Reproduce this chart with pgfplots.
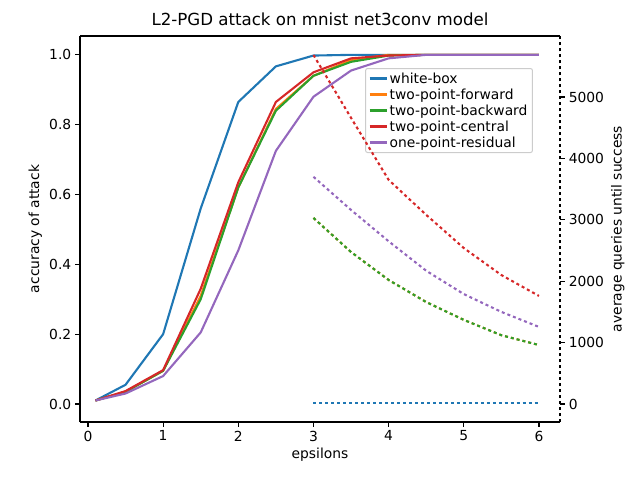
\documentclass[border=0pt]{standalone}
\usepackage{pgfplots}
\pgfplotsset{compat=1.18}
\usepackage{fontspec}
\setmainfont{DejaVu Sans}
\definecolor{mplA}{HTML}{1F77B4}
\definecolor{mplB}{HTML}{FF7F0E}
\definecolor{mplC}{HTML}{2CA02C}
\definecolor{mplD}{HTML}{D62728}
\definecolor{mplE}{HTML}{9467BD}
\begin{document}
\begin{tikzpicture}
\useasboundingbox (-80bp,-58bp) rectangle (560bp,422bp);
\pgfplotsset{every axis/.append style={scale only axis,width=480bp,height=386bp,
  xmin=-0.106,xmax=6.28,font=\fontsize{13.9}{16}\selectfont,
  /pgf/number format/assume math mode=true,
  /pgf/number format/1000 sep={},
  tick align=outside,line width=1.1bp,
  tick style={black,line width=1.1bp},major tick length=4.9bp},
  mp/.style={line width=2.1bp}}
\begin{axis}[at={(0,0)},anchor=south west,
  ymin=-0.0516,ymax=1.054,axis y line*=left,axis x line*=bottom,
  xtick={0,1,2,3,4,5,6},ytick={0,0.2,0.4,0.6,0.8,1.0},
  yticklabel style={/pgf/number format/.cd,fixed,fixed zerofill,precision=1},
  xlabel={epsilons},ylabel={accuracy of attack},
  title={L2-PGD attack on mnist net3conv model},
  title style={font=\fontsize{16.7}{19}\selectfont},
  legend style={at={(0.594,0.917)},anchor=north west,font=\fontsize{13.9}{16}\selectfont,draw=black!20,rounded corners=2pt,line width=1bp},
  legend cell align=left]
\addplot[mplA,mp] coordinates {(0.1,0.01)(0.5,0.055)(1,0.2)(1.5,0.56)(2,0.865)(2.5,0.967)(3,0.998)(3.5,1)(4,1)(4.5,1)(5,1)(5.5,1)(6,1)};
\addlegendentry{white-box}
\addplot[mplB,mp] coordinates {(0.1,0.01)(0.5,0.035)(1,0.095)(1.5,0.31)(2,0.62)(2.5,0.845)(3,0.94)(3.5,0.985)(4,1)(4.5,1)(5,1)(5.5,1)(6,1)};
\addlegendentry{two-point-forward}
\addplot[mplC,mp] coordinates {(0.1,0.01)(0.5,0.035)(1,0.095)(1.5,0.30)(2,0.62)(2.5,0.84)(3,0.94)(3.5,0.98)(4,0.998)(4.5,1)(5,1)(5.5,1)(6,1)};
\addlegendentry{two-point-backward}
\addplot[mplD,mp] coordinates {(0.1,0.01)(0.5,0.037)(1,0.097)(1.5,0.33)(2,0.635)(2.5,0.865)(3,0.95)(3.5,0.99)(4,0.998)(4.5,1)(5,1)(5.5,1)(6,1)};
\addlegendentry{two-point-central}
\addplot[mplE,mp] coordinates {(0.1,0.01)(0.5,0.03)(1,0.08)(1.5,0.205)(2,0.44)(2.5,0.725)(3,0.88)(3.5,0.955)(4,0.99)(4.5,1)(5,1)(5.5,1)(6,1)};
\addlegendentry{one-point-residual}
\draw[black,line width=1.1bp] (rel axis cs:0,1)--(rel axis cs:1,1);
\end{axis}
\begin{axis}[at={(0,0)},anchor=south west,
  ymin=-293,ymax=5993,axis y line*=right,axis x line=none,
  y axis line style={dashed,line width=1.1bp},
  ytick={0,1000,2000,3000,4000,5000},
  ylabel={average queries until success}]
\addplot[mplA,mp,dashed] coordinates {(3,10)(3.5,10)(4,10)(4.5,10)(5,10)(5.5,10)(6,10)};
\addplot[mplB,mp,dashed] coordinates {(3,3030)(3.5,2475)(4,2020)(4.5,1660)(5,1370)(5.5,1120)(6,960)};
\addplot[mplC,mp,dashed] coordinates {(3,3030)(3.5,2475)(4,2020)(4.5,1660)(5,1370)(5.5,1120)(6,960)};
\addplot[mplD,mp,dashed] coordinates {(3,5684)(3.5,4660)(4,3650)(4.5,3080)(5,2540)(5.5,2100)(6,1760)};
\addplot[mplE,mp,dashed] coordinates {(3,3700)(3.5,3160)(4,2650)(4.5,2170)(5,1790)(5.5,1500)(6,1255)};
\end{axis}
\end{tikzpicture}
\end{document}
